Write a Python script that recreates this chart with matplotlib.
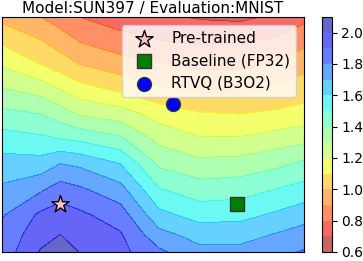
import numpy as np
import matplotlib
matplotlib.use("Agg")
import matplotlib.pyplot as plt

# grid coordinates (pre-trained at 0,0 ; baseline at 1,0)
grid_x = [-0.33, -0.11, 0.0, 0.11, 0.34, 0.56, 0.79, 1.02, 1.24, 1.38]
grid_y = [-0.27, -0.17, -0.06, 0.08, 0.23, 0.37, 0.51, 0.65, 0.79, 0.93, 1.06]

# loss values, rows from bottom to top
loss = [
    [1.84, 2.01, 2.07, 1.995, 1.93, 1.82, 1.73, 1.73, 1.77, 1.81],
    [1.83, 1.96, 2.00, 1.96, 1.91, 1.73, 1.66, 1.66, 1.71, 1.74],
    [1.79, 1.92, 1.95, 1.92, 1.85, 1.63, 1.56, 1.57, 1.62, 1.66],
    [1.72, 1.79, 1.85, 1.82, 1.74, 1.51, 1.45, 1.46, 1.51, 1.54],
    [1.64, 1.64, 1.70, 1.68, 1.60, 1.38, 1.33, 1.34, 1.38, 1.42],
    [1.545, 1.52, 1.50, 1.48, 1.42, 1.27, 1.21, 1.21, 1.25, 1.27],
    [1.43, 1.40, 1.35, 1.29, 1.25, 1.16, 1.11, 1.10, 1.12, 1.14],
    [1.31, 1.26, 1.20, 1.14, 1.08, 1.02, 0.98, 0.98, 1.02, 1.05],
    [1.19, 1.10, 1.05, 1.00, 0.945, 0.91, 0.88, 0.88, 0.92, 0.97],
    [1.077, 1.00, 0.95, 0.89, 0.835, 0.80, 0.78, 0.78, 0.82, 0.865],
    [0.97, 0.90, 0.85, 0.80, 0.75, 0.72, 0.69, 0.68, 0.72, 0.77],
]

pretrained = (0.0, 0.0)
baseline = (1.0, 0.0)
rtvq = (0.64, 0.565)

cbar_ticks = [0.6, 0.8, 1.0, 1.2, 1.4, 1.6, 1.8, 2.0]

fig = plt.figure(figsize=(3.63, 2.61), dpi=100)
ax = fig.add_axes([0.0055, 0.0345, 0.8315, 0.9005])
cax = fig.add_axes([0.886, 0.0345, 0.0275, 0.9005])

X, Y = np.meshgrid(grid_x, grid_y)
cs = ax.contourf(X, Y, np.array(loss), levels=np.linspace(0.6, 2.1, 16),
                 cmap="jet_r", alpha=0.6)

ax.scatter(*pretrained, marker="*", s=170, color="pink", edgecolor="black",
           linewidth=1, label="Pre-trained", zorder=3)
ax.scatter(*baseline, marker="s", s=100, color="green", edgecolor="#333333",
           linewidth=1, label="Baseline (FP32)", zorder=3)
ax.scatter(*rtvq, marker="o", s=100, color="blue", edgecolor="#333333",
           linewidth=1, label="RTVQ (B3O2)", zorder=3)

ax.set_xticks([])
ax.set_yticks([])
ax.set_title("Model:SUN397 / Evaluation:MNIST", fontsize=11, pad=3)
ax.legend(loc="upper right", fontsize=11)

cb = fig.colorbar(cs, cax=cax)
cb.set_ticks(cbar_ticks)
cb.ax.tick_params(labelsize=10)

fig.savefig("out.png", dpi=100)
